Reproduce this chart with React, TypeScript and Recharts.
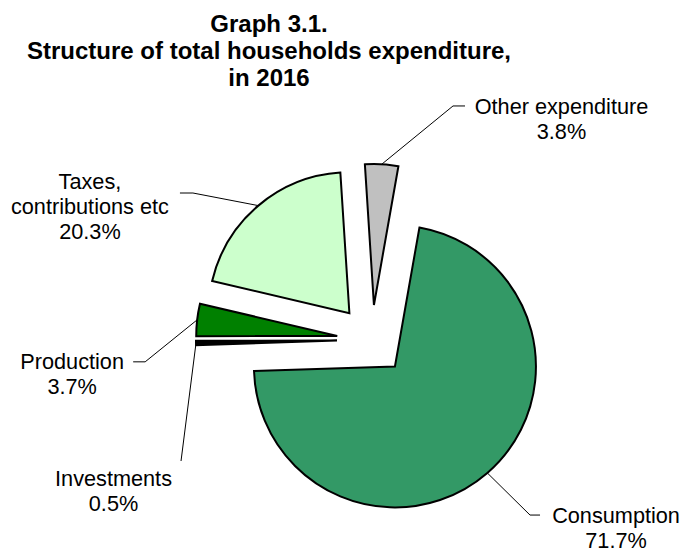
import React from 'react';
import { PieChart, Pie, Sector } from 'recharts';

// ---- data ----
const categories = ['Consumption', 'Investments', 'Production', 'Taxes, contributions etc', 'Other expenditure'];
const shares = [71.7, 0.5, 3.7, 20.3, 3.8];
const labelNameLines = [['Consumption'], ['Investments'], ['Production'], ['Taxes,', 'contributions etc'], ['Other expenditure']];
const sliceColors = ['#339966', '#000000', '#008000', '#CCFFCC', '#C0C0C0'];
const titleLines = ['Graph 3.1.', 'Structure of total households expenditure,', 'in 2016'];

const data = categories.map((name, i) => ({ name, value: shares[i] }));

// ---- layout ----
const CX = 372;
const CY = 340;
const R = 141;
const EXPLODE = 35;
const RADIAN = Math.PI / 180;
const FONT = '"Liberation Sans", Arial, Helvetica, sans-serif';
const LABEL_SIZE = 21.7;
const LINE_GAP = 25;

// leader-line elbow offset (ex, ey) from the slice's outer arc point, horizontal tail h,
// text (centre x, first baseline) relative to the tail end
const labelLayout = [
  { ex: 42.7, ey: 42.1, h: 10, tx: 76, ty: 8 },
  { ex: -15, ey: 118, h: 0, tx: -67.5, ty: 25 },
  { ex: -52, ey: 42, h: -12, tx: -61, ty: 7 },
  { ex: -65.4, ey: -12.6, h: -13, tx: -90, ty: -4 },
  { ex: 71.3, ey: -58.3, h: 12, tx: 96.5, ty: 8 },
];

function renderSlice(props: any) {
  const { cx, cy, outerRadius, startAngle, endAngle, index, value } = props;
  const mid = (startAngle + endAngle) / 2;
  const dx = Math.cos(-mid * RADIAN);
  const dy = Math.sin(-mid * RADIAN);
  const sx = cx + EXPLODE * dx;
  const sy = cy + EXPLODE * dy;
  const px = cx + (outerRadius + EXPLODE) * dx;
  const py = cy + (outerRadius + EXPLODE) * dy;
  const L = labelLayout[index];
  const elX = px + L.ex;
  const elY = py + L.ey;
  const endX = elX + L.h;
  const endY = elY;
  const textX = endX + L.tx;
  const textY = endY + L.ty;
  const lines = [...labelNameLines[index], `${Number(value).toFixed(1)}%`];
  const pts = L.h !== 0 ? `${px},${py} ${elX},${elY} ${endX},${endY}` : `${px},${py} ${elX},${elY}`;
  return (
    <g key={`slice-${index}`}>
      <Sector
        cx={sx}
        cy={sy}
        innerRadius={0}
        outerRadius={outerRadius}
        startAngle={startAngle}
        endAngle={endAngle}
        fill={sliceColors[index]}
        stroke="#000000"
        strokeWidth={2}
      />
      <polyline points={pts} fill="none" stroke="#000000" strokeWidth={1} />
      <text x={textX} y={textY} textAnchor="middle" fontFamily={FONT} fontSize={LABEL_SIZE} fill="#000000">
        {lines.map((t, i) => (
          <tspan key={i} x={textX} y={textY + i * LINE_GAP}>
            {t}
          </tspan>
        ))}
      </text>
    </g>
  );
}

export default function App() {
  return (
    <div style={{ position: 'absolute', left: 0, top: 0, width: 681, height: 548, background: '#ffffff' }}>
      <PieChart width={681} height={548} margin={{ top: 0, right: 0, bottom: 0, left: 0 }}>
        <Pie
          data={data}
          dataKey="value"
          nameKey="name"
          cx={CX}
          cy={CY}
          innerRadius={0}
          outerRadius={R}
          startAngle={80}
          endAngle={-280}
          fill="none"
          stroke="none"
          label={renderSlice}
          labelLine={false}
          isAnimationActive={false}
        />
      </PieChart>
      <div
        style={{
          position: 'absolute',
          left: 0,
          top: 10,
          width: 538,
          textAlign: 'center',
          fontFamily: FONT,
          fontWeight: 'bold',
          fontSize: 24,
          lineHeight: '27px',
          color: '#000000',
        }}
      >
        {titleLines.map((t, i) => (
          <div key={i}>{t}</div>
        ))}
      </div>
    </div>
  );
}
